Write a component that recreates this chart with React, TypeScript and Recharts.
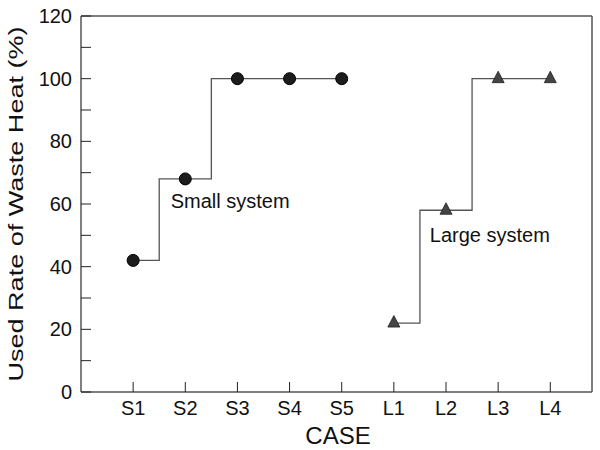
import React from 'react';
import { LineChart, Line, XAxis, YAxis, ReferenceDot } from 'recharts';

const caseLabels = ['S1', 'S2', 'S3', 'S4', 'S5', 'L1', 'L2', 'L3', 'L4'];
const casePositions = [1, 2, 3, 4, 5, 6, 7, 8, 9];
const smallCases = [1, 2, 3, 4, 5];
const smallValues = [42, 68, 100, 100, 100];
const largeCases = [6, 7, 8, 9];
const largeValues = [22, 58, 100, 100];
const yTicks = [0, 10, 20, 30, 40, 50, 60, 70, 80, 90, 100, 110, 120];
const xDomain = [0, 9.8];
const yDomain = [0, 120];

const smallData = smallCases.map((x, i) => ({ x, y: smallValues[i] }));
const largeData = largeCases.map((x, i) => ({ x, y: largeValues[i] }));

const FONT = '"Liberation Sans", Arial, Helvetica, sans-serif';
const AXIS = { stroke: '#555', strokeWidth: 1.5 };
const TICKLINE = { stroke: '#222', strokeWidth: 1 };

const CircleDot = (p: any) => (
  <circle key={`c-${p.index}`} cx={p.cx} cy={p.cy} r={6} fill="#1c1c1c" stroke="#000" strokeWidth={1} />
);

const TriangleDot = (p: any) => (
  <path
    key={`t-${p.index}`}
    d={`M${p.cx},${p.cy - 7.5} L${p.cx + 6},${p.cy + 4} L${p.cx - 6},${p.cy + 4} Z`}
    fill="#444"
    stroke="#222"
    strokeWidth={0.8}
  />
);

const YTitle = (props: any) => {
  const vb = props.viewBox;
  const cx = vb.x + 2;
  const cy = vb.y + vb.height / 2;
  return (
    <text
      x={cx}
      y={cy}
      transform={`rotate(-90, ${cx}, ${cy})`}
      textAnchor="middle"
      fontSize={21}
      fill="#111"
      fontFamily={FONT}
      textLength={355}
      lengthAdjust="spacingAndGlyphs"
    >
      Used Rate of Waste Heat (%)
    </text>
  );
};

const XTitle = (props: any) => {
  const vb = props.viewBox;
  return (
    <text x={vb.x + vb.width / 2 + 1.5} y={vb.y + 52} textAnchor="middle" fontSize={24} fill="#111" fontFamily={FONT}>
      CASE
    </text>
  );
};

export default function App() {
  return (
    <div style={{ position: 'absolute', left: 0, top: 0, width: 600, height: 450, background: '#fff' }}>
      <LineChart
        width={600}
        height={450}
        margin={{ top: 15, right: 7, bottom: 18, left: 21 }}
        style={{ fontFamily: FONT }}
      >
        <XAxis
          xAxisId="bottom"
          dataKey="x"
          type="number"
          domain={xDomain}
          ticks={casePositions}
          tickFormatter={(v: number) => caseLabels[casePositions.indexOf(v)] ?? ''}
          height={40}
          axisLine={AXIS}
          tickLine={TICKLINE}
          tickSize={-10}
          tickMargin={19}
          tick={{ fontSize: 20, fill: '#111', fontFamily: FONT }}
          interval={0}
          allowDataOverflow
          label={<XTitle />}
        />
        <XAxis
          xAxisId="top"
          orientation="top"
          type="number"
          domain={xDomain}
          ticks={casePositions}
          height={1}
          axisLine={AXIS}
          tickLine={TICKLINE}
          tickSize={-10}
          tick={false}
          interval={0}
          allowDataOverflow
        />
        <YAxis
          yAxisId="left"
          type="number"
          domain={yDomain}
          ticks={yTicks}
          tickFormatter={(v: number) => (v % 20 === 0 ? String(v) : '')}
          width={60}
          axisLine={AXIS}
          tickLine={TICKLINE}
          tickSize={-10}
          tickMargin={19}
          tick={{ fontSize: 20, fill: '#111', fontFamily: FONT }}
          interval={0}
          allowDataOverflow
          label={<YTitle />}
        />
        <YAxis
          yAxisId="right"
          orientation="right"
          type="number"
          domain={yDomain}
          ticks={yTicks}
          width={1}
          axisLine={AXIS}
          tickLine={TICKLINE}
          tickSize={-10}
          tick={false}
          interval={0}
          allowDataOverflow
        />
        <Line
          xAxisId="bottom"
          yAxisId="left"
          data={smallData}
          dataKey="y"
          type="step"
          stroke="#555"
          strokeWidth={1.3}
          dot={CircleDot}
          activeDot={false}
          isAnimationActive={false}
        />
        <Line
          xAxisId="bottom"
          yAxisId="left"
          data={largeData}
          dataKey="y"
          type="step"
          stroke="#555"
          strokeWidth={1.3}
          dot={TriangleDot}
          activeDot={false}
          isAnimationActive={false}
        />
        <ReferenceDot
          xAxisId="bottom"
          yAxisId="left"
          x={2.86}
          y={61}
          r={0}
          fill="none"
          stroke="none"
          label={{ value: 'Small system', position: 'center', fontSize: 20, fill: '#111', fontFamily: FONT }}
        />
        <ReferenceDot
          xAxisId="bottom"
          yAxisId="left"
          x={7.84}
          y={50}
          r={0}
          fill="none"
          stroke="none"
          label={{ value: 'Large system', position: 'center', fontSize: 20, fill: '#111', fontFamily: FONT }}
        />
      </LineChart>
    </div>
  );
}
